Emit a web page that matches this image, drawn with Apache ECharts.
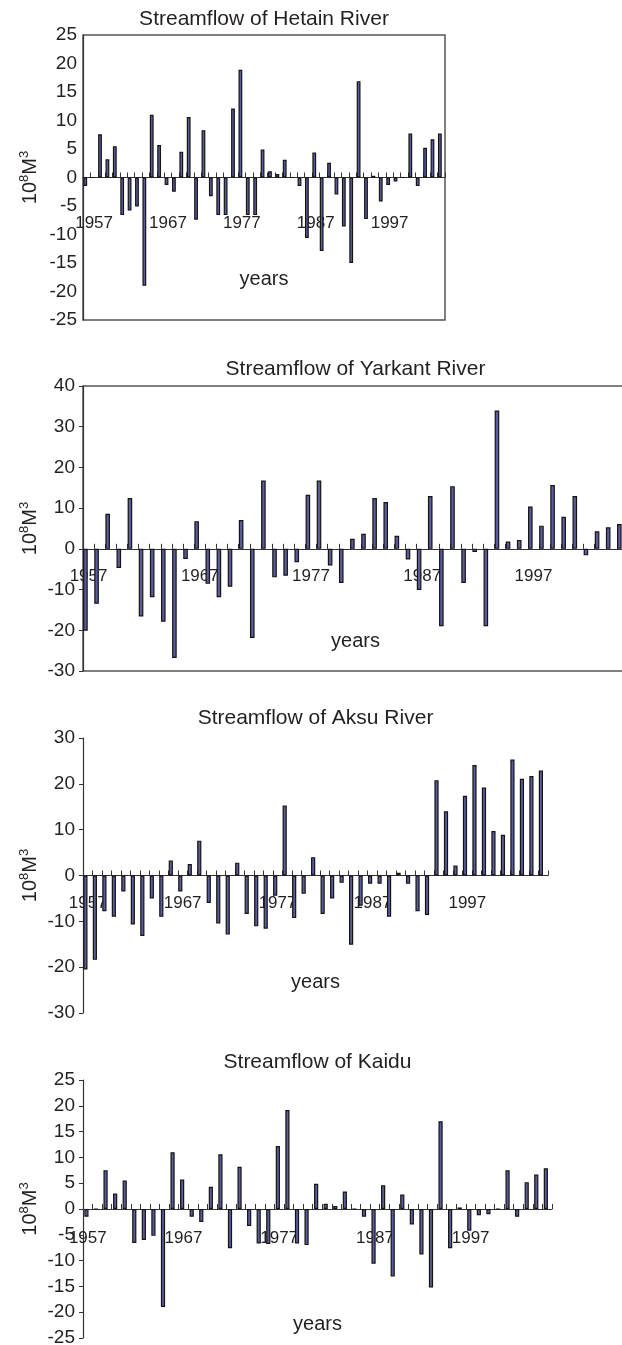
<!DOCTYPE html>
<html>
<head>
    <meta charset="utf-8">
    <title>Streamflow</title>
    <script src="https://cdn.jsdelivr.net/npm/echarts@6/dist/echarts.min.js"></script>
    <style>
        html, body { margin: 0; padding: 0; background: #fff; }
        #main { width: 622px; height: 1345px; }
    </style>
</head>
<body>
<div id="main"></div>
<script>
    // categories
    function years(from, to) {
        var a = [];
        for (var y = from; y <= to; y++) a.push(String(y));
        return a;
    }
    var hetainYears = years(1956, 2004);
    var otherYears = years(1957, 2005);

    // series values, 10^8 m3
    var hetain = [-1.5, 0, 7.6, 3.2, 5.5, -6.6, -5.8, -5.1, -19.0, 11.0,
        5.7, -1.3, -2.5, 4.5, 10.6, -7.4, 8.3, -3.3, -6.6, -6.6,
        12.1, 18.9, -6.6, -6.6, 4.9, 1.1, 0.6, 3.1, 0, -1.5,
        -10.6, 4.4, -12.9, 2.6, -3.0, -8.6, -15.0, 16.9, -7.3, 0.3,
        -4.2, -1.3, -0.7, 0, 7.7, -1.5, 5.2, 6.7, 7.7];
    var yarkant = [-20.1, -13.5, 8.6, -4.7, 12.5, -16.6, -11.9, -17.9, -26.8, -2.5,
        6.8, -8.6, -11.9, -9.3, 7.1, -21.9, 16.8, -7.0, -6.6, -3.3,
        13.3, 16.8, -4.1, -8.4, 2.5, 3.7, 12.5, 11.5, 3.2, -2.6,
        -10.1, 13.0, -19.0, 15.4, -8.4, -0.8, -19.0, 34.0, 1.8, 2.2,
        10.4, 5.7, 15.7, 7.9, 13.0, -1.6, 4.3, 5.3, 6.1];
    var aksu = [-20.5, -18.4, -7.8, -9.0, -3.5, -10.7, -13.2, -5.0, -9.0, 3.3,
        -3.5, 2.5, 7.6, -6.0, -10.5, -12.9, 2.8, -8.4, -11.1, -11.6,
        -4.4, 15.3, -9.3, -4.0, 4.0, -8.4, -5.0, -1.6, -15.1, -6.6,
        -1.8, -1.8, -9.0, 0.6, -1.8, -7.8, -8.6, 20.8, 14.0, 2.2,
        17.4, 24.1, 19.2, 9.7, 8.9, 25.3, 21.1, 21.7, 22.9];
    var kaidu = [-1.5, 0, 7.5, 3.0, 5.5, -6.6, -6.0, -5.2, -19.0, 11.0,
        5.7, -1.5, -2.5, 4.3, 10.6, -7.6, 8.2, -3.3, -6.7, -6.8,
        12.2, 19.2, -6.7, -7.0, 4.9, 1.0, 0.6, 3.4, 0, -1.5,
        -10.6, 4.6, -13.1, 2.8, -3.0, -8.8, -15.2, 17.0, -7.6, 0.3,
        -4.2, -1.2, -1.0, 0, 7.5, -1.5, 5.2, 6.7, 7.9];

    // y axis [min, max, interval]
    var hetainRange = [-25, 25, 5];
    var yarkantRange = [-30, 40, 10];
    var aksuRange = [-30, 30, 10];
    var kaiduRange = [-25, 25, 5];

    var font = "'Liberation Sans', Arial, Helvetica, sans-serif";
    var ink = '#231f20';

    // labels and "years" sit inside the plot, so margins are counted from the plot bottom
    var panels = [
        { title: 'Streamflow of Hetain River', cats: hetainYears, data: hetain, range: hetainRange,
          grid: { left: 83, top: 35, width: 362, height: 285 }, titleTop: 8.5, box: true,
          labelMargin: -105, nameGap: -51, barWidth: 3.8, barGap: '-24%', yTick: false },
        { title: 'Streamflow of Yarkant River', cats: otherYears, data: yarkant, range: yarkantRange,
          grid: { left: 83, top: 386, width: 545, height: 285 }, titleTop: 358.5, box: true,
          labelMargin: -103, nameGap: -40, barWidth: 4.6, barGap: '36%', yTick: true },
        { title: 'Streamflow of Aksu River', cats: otherYears, data: aksu, range: aksuRange,
          grid: { left: 83, top: 738, width: 465, height: 275 }, titleTop: 708, box: false,
          labelMargin: -118.5, nameGap: -41, barWidth: 4.2, barGap: '12%', yTick: true },
        { title: 'Streamflow of Kaidu', cats: otherYears, data: kaidu, range: kaiduRange,
          grid: { left: 83, top: 1080, width: 469, height: 258 }, titleTop: 1051.5, box: false,
          labelMargin: -108, nameGap: -24, barWidth: 4.2, barGap: '-35%', yTick: true }
    ];

    var option = {
        animation: false,
        backgroundColor: '#fff',
        title: [], grid: [], xAxis: [], yAxis: [], series: []
    };

    panels.forEach(function (p, i) {
        var cx = p.grid.left + p.grid.width / 2;
        option.title.push({
            text: p.title, left: cx, top: p.titleTop, textAlign: 'center', padding: 0,
            textStyle: { fontFamily: font, fontSize: 21, fontWeight: 'normal', color: ink }
        });
        option.grid.push({
            left: p.grid.left, top: p.grid.top, width: p.grid.width, height: p.grid.height,
            show: p.box, borderColor: '#555', borderWidth: 1.5,
            containLabel: false, outerBoundsMode: 'none'
        });
        option.xAxis.push({
            type: 'category', gridIndex: i, data: p.cats, boundaryGap: true,
            name: 'years', nameLocation: 'middle', nameGap: p.nameGap, nameMoveOverlap: false,
            nameTextStyle: { fontFamily: font, fontSize: 20, color: ink },
            axisLine: { onZero: true, lineStyle: { color: '#333', width: 1 } },
            axisTick: { show: true, inside: true, length: 5, interval: 0, alignWithLabel: false,
                lineStyle: { color: '#333', width: 1 } },
            axisLabel: {
                // 每十年一个标签
                interval: function (idx, val) { return String(val).slice(-1) === '7'; },
                margin: p.labelMargin, fontFamily: font, fontSize: 17, color: ink, hideOverlap: false
            },
            splitLine: { show: false }
        });
        option.yAxis.push({
            type: 'value', gridIndex: i, min: p.range[0], max: p.range[1], interval: p.range[2],
            name: '{a|10}{b|8}{a|M}{b|3}', nameLocation: 'middle', nameGap: 41, nameMoveOverlap: false,
            nameTextStyle: {
                rich: {
                    a: { fontFamily: font, fontSize: 20, color: ink, lineHeight: 24 },
                    b: { fontFamily: font, fontSize: 13, color: ink, lineHeight: 14, verticalAlign: 'top' }
                }
            },
            axisLine: { show: true, lineStyle: { color: '#333', width: 1.2 } },
            axisTick: { show: p.yTick, length: 4, lineStyle: { color: '#333' } },
            axisLabel: { margin: p.yTick ? 8 : 6, fontFamily: font, fontSize: 19, color: ink },
            splitLine: { show: false }
        });
        option.series.push({
            type: 'bar', xAxisIndex: i, yAxisIndex: i, data: p.data,
            barWidth: p.barWidth, barGap: p.barGap, silent: true,
            itemStyle: { color: '#5c5c98', borderColor: '#141418', borderWidth: 1.2 }
        });
        // empty spacer series: keeps each bar at the left of its year slot
        option.series.push({
            type: 'bar', xAxisIndex: i, yAxisIndex: i, data: [],
            barWidth: p.barWidth, barGap: p.barGap, silent: true
        });
    });

    var myChart = echarts.init(document.getElementById('main'));
    myChart.setOption(option);
</script>
</body>
</html>
